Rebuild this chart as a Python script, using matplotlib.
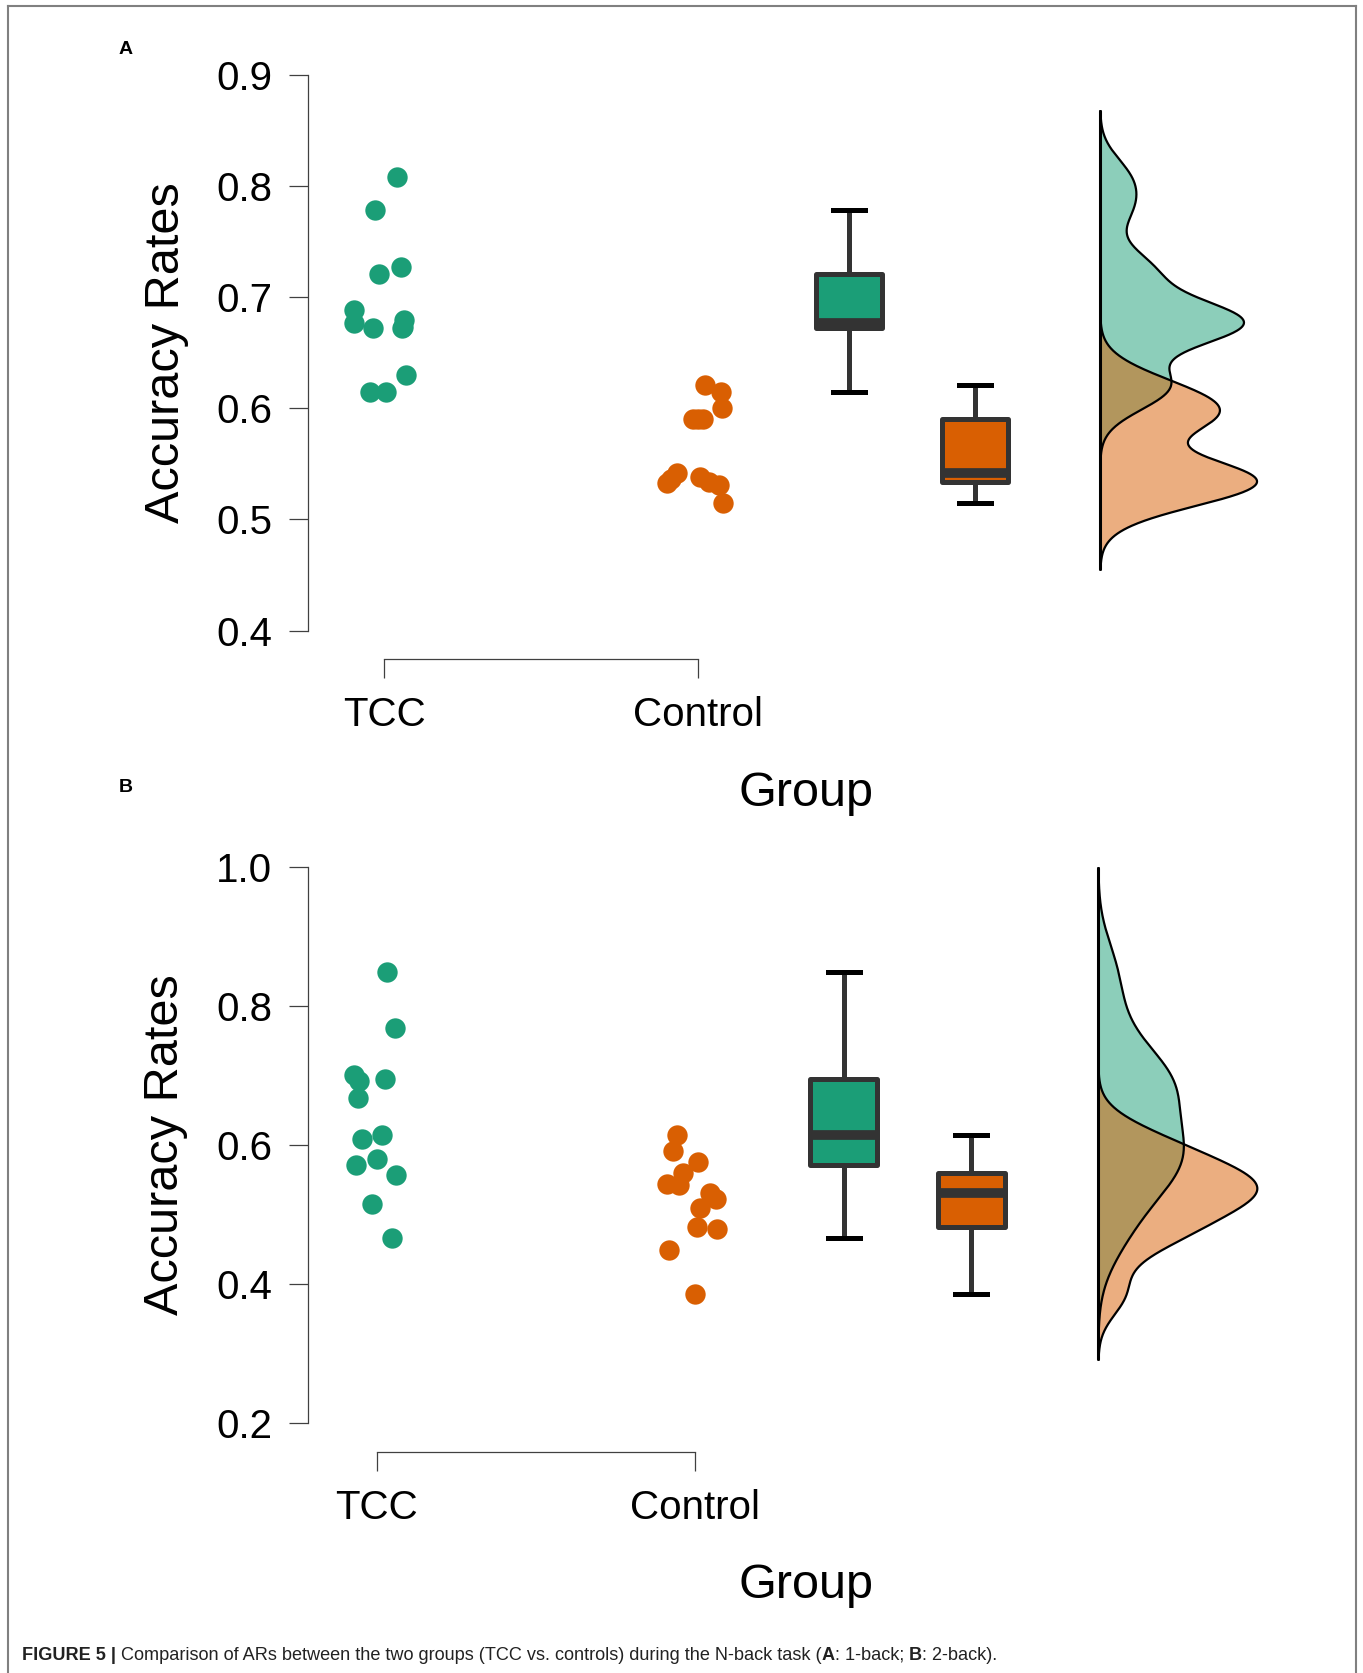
import numpy as np
import matplotlib.pyplot as plt
from matplotlib.lines import Line2D

plt.rcParams['font.family'] = ['Liberation Sans', 'DejaVu Sans']

W, H = 1363, 1673
groups = ['TCC', 'Control']
green = '#1b9e77'
orange = '#d95f02'

# --- 1-back accuracy rates ---
tcc_1back = [0.808, 0.778, 0.727, 0.721, 0.688, 0.677, 0.672, 0.6795, 0.672, 0.673, 0.630, 0.615, 0.615]
tcc_1back_jit = [0.041, -0.031, 0.054, -0.017, -0.096, -0.096, -0.037, 0.063, 0.056, 0.060, 0.069, -0.047, 0.006]
ctrl_1back = [0.621, 0.615, 0.600, 0.590, 0.590, 0.590, 0.533, 0.542, 0.536, 0.538, 0.534, 0.531, 0.515]
ctrl_1back_jit = [0.022, 0.073, 0.076, -0.015, 0.000, 0.017, -0.100, -0.066, -0.085, 0.006, 0.033, 0.068, 0.080]

# --- 2-back accuracy rates ---
tcc_2back = [0.848, 0.768, 0.700, 0.692, 0.695, 0.667, 0.608, 0.614, 0.571, 0.579, 0.556, 0.5145, 0.466]
tcc_2back_jit = [0.032, 0.058, -0.072, -0.056, 0.025, -0.059, -0.046, 0.017, -0.066, 0.001, 0.062, -0.014, 0.048]
ctrl_2back = [0.614, 0.591, 0.5745, 0.559, 0.5435, 0.5415, 0.530, 0.522, 0.5086, 0.4815, 0.479, 0.448, 0.3846]
ctrl_2back_jit = [-0.056, -0.067, 0.011, -0.037, -0.087, -0.051, 0.049, 0.067, 0.017, 0.006, 0.070, -0.081, 0.000]

yticks_1back = [0.4, 0.5, 0.6, 0.7, 0.8, 0.9]
yticks_2back = [0.2, 0.4, 0.6, 0.8, 1.0]


def kde_nrd0(x, n=512):
    # gaussian kernel density, R default bandwidth, cut = 3
    x = np.asarray(x)
    q75, q25 = np.percentile(x, [75, 25])
    bw = 0.9 * min(x.std(ddof=1), (q75 - q25) / 1.34) * len(x) ** -0.2
    grid = np.linspace(x.min() - 3 * bw, x.max() + 3 * bw, n)
    dens = np.exp(-0.5 * ((grid[:, None] - x[None, :]) / bw) ** 2).sum(1)
    dens = dens / (len(x) * bw * np.sqrt(2 * np.pi))
    return grid, dens


def px_axes(fig, left, top, right, bottom):
    return fig.add_axes([left / W, 1 - bottom / H, (right - left) / W, (bottom - top) / H])


def draw_panel(ax, data, jits, yticks, xlim, ylim, box_pos, box_w, cap_w, base_x, ylab_y):
    colors = [green, orange]
    for i, (vals, jit) in enumerate(zip(data, jits)):
        ax.scatter(np.array(jit) + i + 1, vals, s=215, color=colors[i], lw=0, zorder=3)

    bp = ax.boxplot(data, positions=box_pos, widths=box_w, showfliers=False,
                    patch_artist=True, capwidths=cap_w,
                    boxprops=dict(edgecolor='#333333', linewidth=3.6, joinstyle='round'),
                    whiskerprops=dict(color='#333333', linewidth=3.6),
                    capprops=dict(color='black', linewidth=3.6),
                    medianprops=dict(color='#333333', linewidth=7, solid_capstyle='butt'))
    for patch, c in zip(bp['boxes'], colors):
        patch.set_facecolor(c)

    # half densities
    dens_all = [kde_nrd0(v) for v in data]
    scale = 0.5 / max(d.max() for _, d in dens_all)
    lo = min(g.min() for g, _ in dens_all)
    hi = max(g.max() for g, _ in dens_all)
    for (grid, dens), c in zip(dens_all, colors):
        ax.fill_betweenx(grid, base_x, base_x + dens * scale, facecolor=c, alpha=0.5, lw=0)
        ax.plot(base_x + dens * scale, grid, color='black', lw=1.6)
    ax.plot([base_x, base_x], [lo, hi], color='black', lw=2.2, solid_capstyle='round')

    ax.set_xlim(*xlim)
    ax.set_ylim(*ylim)
    ax.set_yticks(yticks)
    ax.set_yticklabels([f'{v:.1f}' for v in yticks])
    ax.set_xticks([1, 2])
    ax.set_xticklabels(groups)
    for s in ['top', 'right']:
        ax.spines[s].set_visible(False)
    ax.spines['left'].set_bounds(yticks[0], yticks[-1])
    ax.spines['bottom'].set_bounds(1, 2)
    for s in ['left', 'bottom']:
        ax.spines[s].set_color('#404040')
        ax.spines[s].set_linewidth(0.9)
    ax.tick_params(axis='y', length=14, width=0.9, color='#404040', pad=12, labelsize=29)
    ax.tick_params(axis='x', length=13.5, width=0.9, color='#404040', pad=13.5, labelsize=29)
    ax.text(-0.1466, ylab_y, 'Accuracy Rates', fontsize=35, rotation=90, ha='center', va='center',
            transform=ax.get_yaxis_transform())


fig = plt.figure(figsize=(W / 100, H / 100), dpi=100)

# panel A: 1-back
axA = px_axes(fig, 308.4, 69.1, 308.4 + 970.3, 658.5)
draw_panel(axA, [tcc_1back, ctrl_1back], [tcc_1back_jit, ctrl_1back_jit], yticks_1back,
           (0.758, 3.85), (0.375, 0.905), [2.481, 2.882], 0.2125, 0.1, 3.281, 0.65)

# panel B: 2-back
axB = px_axes(fig, 308.4, 863.2, 308.4 + 974.7, 1451.5)
draw_panel(axB, [tcc_2back, ctrl_2back], [tcc_2back_jit, ctrl_2back_jit], yticks_2back,
           (0.785, 3.85), (0.1586, 1.005), [2.468, 2.869], 0.21, 0.1, 3.269, 0.6)

fig.text(805.8 / W, 1 - 794 / H, 'Group', fontsize=35, ha='center', va='center')
fig.text(805.8 / W, 1 - 1586 / H, 'Group', fontsize=35, ha='center', va='center')
fig.text(126 / W, 1 - 50 / H, 'A', fontsize=14, fontweight='bold', ha='center', va='center')
fig.text(126 / W, 1 - 787.5 / H, 'B', fontsize=14, fontweight='bold', ha='center', va='center')

# caption with bold pieces
pieces = [('FIGURE 5 |', 'bold'),
          (' Comparison of ARs between the two groups (TCC vs. controls) during the N-back task (', 'normal'),
          ('A', 'bold'), (': 1-back; ', 'normal'), ('B', 'bold'), (': 2-back).', 'normal')]
prev = fig.text(22 / W, 1 - 1660 / H, pieces[0][0], fontsize=13.1, fontweight=pieces[0][1],
                ha='left', va='baseline', color='#222222')
for txt, wgt in pieces[1:]:
    prev = axA.annotate(txt, xycoords=prev, xy=(1, 0), va='bottom', ha='left',
                        fontsize=13.1, fontweight=wgt, color='#222222', annotation_clip=False)

# frame around the figure (no bottom edge)
frame = dict(transform=fig.transFigure, color='#808080', lw=1.5)
fig.add_artist(Line2D([8 / W, 8 / W], [0, 1 - 6 / H], **frame))
fig.add_artist(Line2D([1356 / W, 1356 / W], [0, 1 - 6 / H], **frame))
fig.add_artist(Line2D([8 / W, 1356 / W], [1 - 6 / H, 1 - 6 / H], **frame))

fig.savefig('out.png', dpi=100)
